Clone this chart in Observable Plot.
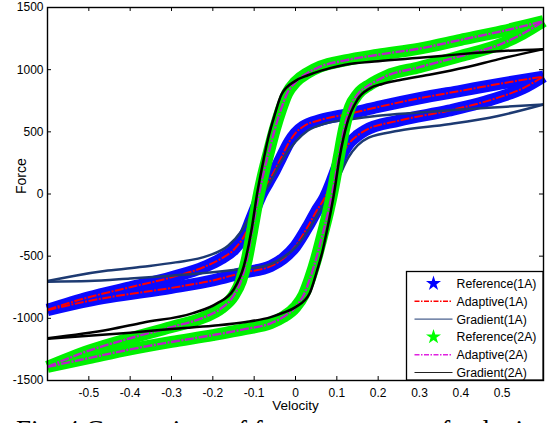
<!DOCTYPE html>
<html><head><meta charset="utf-8">
<script src="https://cdn.jsdelivr.net/npm/d3@7"></script>
<script src="https://cdn.jsdelivr.net/npm/@observablehq/plot@0.6"></script>
<style>
body{margin:0;background:#fff;width:552px;height:423px;overflow:hidden;position:relative}
#chart{position:absolute;left:0;top:0;width:552px;height:415px}
#cap{position:absolute;left:16px;top:416.5px;font-family:"Liberation Serif","Times New Roman",serif;font-size:27px;line-height:27px;white-space:nowrap;color:#000}
</style></head><body><div id="chart"></div><div id="cap">Fig. 4 Comparison of force responses of velocity for</div>
<script>
// ---- data (velocity, force) ----
const xTicks = [-0.5,-0.4,-0.3,-0.2,-0.1,0,0.1,0.2,0.3,0.4,0.5];
const yTicks = [-1500,-1000,-500,0,500,1000,1500];

// 1A adaptive (red) : upper branch (decreasing velocity) and lower branch
const adaptiveUpper1A = [[-0.6,-930],[-0.5,-830],[-0.4,-750],[-0.3,-670],[-0.22,-585],[-0.18,-520],[-0.147,-440],[-0.123,-330],[-0.107,-200],[-0.082,0],[-0.065,100],[-0.05,190],[-0.035,290],[-0.015,420],[0.0,490],[0.02,545],[0.06,595],[0.13,645],[0.2,700],[0.3,770],[0.4,830],[0.5,890],[0.6,945]];
const adaptiveLower1A = [[-0.6,-935],[-0.5,-860],[-0.45,-830],[-0.3,-755],[-0.2,-695],[-0.13,-635],[-0.06,-580],[-0.03,-520],[0.0,-420],[0.031,-255],[0.05,-140],[0.071,-28],[0.085,80],[0.095,170],[0.11,300],[0.128,400],[0.15,470],[0.168,510],[0.25,590],[0.37,670],[0.49,775],[0.55,850],[0.6,945]];
// 1A gradient (navy)
const gradientUpper1A = [[-0.6,-700],[-0.53,-655],[-0.454,-616],[-0.37,-585],[-0.29,-550],[-0.211,-496],[-0.163,-416],[-0.131,-300],[-0.107,-160],[-0.085,-30],[-0.06,100],[-0.035,260],[0.0,420],[0.03,510],[0.07,565],[0.13,600],[0.2,630],[0.3,655],[0.4,680],[0.5,700],[0.6,720]];
const gradientLower1A = [[-0.6,-705],[-0.5,-700],[-0.4,-680],[-0.3,-657],[-0.2,-630],[-0.13,-603],[-0.07,-575],[-0.03,-510],[0.0,-430],[0.035,-270],[0.06,-130],[0.087,0],[0.107,150],[0.128,294],[0.15,390],[0.177,454],[0.249,508],[0.37,561],[0.49,628],[0.6,720]];
// 2A adaptive (magenta)
const adaptiveUpper2A = [[-0.6,-1390],[-0.5,-1260],[-0.4,-1160],[-0.3,-1070],[-0.22,-990],[-0.18,-920],[-0.15,-820],[-0.132,-700],[-0.118,-530],[-0.105,-300],[-0.092,-60],[-0.08,130],[-0.065,330],[-0.05,520],[-0.035,680],[-0.02,810],[0.0,900],[0.03,975],[0.06,1025],[0.12,1075],[0.2,1120],[0.3,1170],[0.4,1240],[0.5,1310],[0.6,1390]];
const adaptiveLower2A = [[-0.6,-1390],[-0.5,-1320],[-0.4,-1250],[-0.3,-1190],[-0.2,-1135],[-0.12,-1085],[-0.06,-1040],[-0.03,-990],[0.0,-910],[0.02,-810],[0.035,-680],[0.05,-520],[0.065,-330],[0.08,-130],[0.092,60],[0.105,300],[0.118,530],[0.132,700],[0.15,800],[0.18,880],[0.22,950],[0.3,1020],[0.4,1110],[0.5,1210],[0.55,1290],[0.6,1390]];
// 2A gradient (black)
const gradientUpper2A = [[-0.6,-1160],[-0.45,-1090],[-0.37,-1035],[-0.25,-960],[-0.19,-880],[-0.15,-770],[-0.125,-580],[-0.107,-300],[-0.092,20],[-0.08,230],[-0.066,450],[-0.05,640],[-0.034,800],[0.0,910],[0.03,955],[0.06,990],[0.12,1040],[0.2,1068],[0.3,1095],[0.4,1125],[0.5,1150],[0.6,1165]];
const gradientLower2A = [[-0.6,-1165],[-0.5,-1140],[-0.4,-1115],[-0.3,-1085],[-0.2,-1060],[-0.12,-1030],[-0.06,-990],[-0.03,-955],[0.0,-910],[0.034,-800],[0.05,-640],[0.066,-450],[0.08,-230],[0.092,-20],[0.107,300],[0.125,570],[0.15,760],[0.18,850],[0.21,885],[0.25,915],[0.33,963],[0.41,1017],[0.49,1083],[0.6,1165]];
// measured reference points coincide with the adaptive fit
const referenceUpper1A = adaptiveUpper1A, referenceLower1A = adaptiveLower1A;
const referenceUpper2A = adaptiveUpper2A, referenceLower2A = adaptiveLower2A;

const rows = (up, low) => [
  ...up.map(([v, f]) => ({v, f, b: "up"})),
  ...low.map(([v, f]) => ({v, f, b: "low"}))
];
const ref1 = rows(referenceUpper1A, referenceLower1A);
const ad1 = rows(adaptiveUpper1A, adaptiveLower1A);
const gr1 = rows(gradientUpper1A, gradientLower1A);
const ref2 = rows(referenceUpper2A, referenceLower2A);
const ad2 = rows(adaptiveUpper2A, adaptiveLower2A);
const gr2 = rows(gradientUpper2A, gradientLower2A);

const C = {blue:"#0a0aff", red:"#ff0000", navy:"#1d3a72", green:"#00f000", mag:"#b81fc8", black:"#000000"};
const L = (data, stroke, w, extra={}) => Plot.line(data, {x:"v", y:"f", z:"b", stroke, strokeWidth:w, curve:"monotone-x", strokeLinecap:"butt", ...extra});
const fmt = d => String(d);

const plot = Plot.plot({
  width: 552, height: 415,
  marginLeft: 47, marginRight: 9, marginTop: 7, marginBottom: 35,
  style: {fontFamily: "'Liberation Sans', Arial, sans-serif", fontSize: "12px", background: "#fff", color: "#000"},
  x: {domain: [-0.6, 0.6]},
  y: {domain: [-1500, 1500]},
  marks: [
    L(ref1, C.blue, 12),
    L(ad1, C.red, 2, {strokeDasharray:"9,1.5,2,1.5"}),
    L(gr1, C.navy, 2.5),
    L(ref2, C.green, 12),
    L(ad2, C.mag, 2.4, {strokeDasharray:"9,1.5,2,1.5"}),
    L(gr2, C.black, 2.5),
    Plot.frame({stroke:"#000", strokeWidth:1.4}),
    Plot.ruleX(xTicks, {x: d=>d, y1:-1500, y2:-1468, stroke:"#000"}),
    Plot.ruleX(xTicks, {x: d=>d, y1:1500, y2:1468, stroke:"#000"}),
    Plot.ruleY(yTicks, {y: d=>d, x1:-0.6, x2:-0.5903, stroke:"#000"}),
    Plot.ruleY(yTicks, {y: d=>d, x1:0.6, x2:0.5903, stroke:"#000"}),
    Plot.axisX(xTicks, {anchor:"bottom", tickSize:0, tickPadding:8, tickFormat:fmt, label:null}),
    Plot.axisY(yTicks, {anchor:"left", tickSize:0, tickPadding:4, tickFormat:fmt, label:null}),
    Plot.text(["Velocity"], {text:d=>d, frameAnchor:"bottom", dy:29.5, fontSize:13.5}),
    Plot.text(["Force"], {text:d=>d, frameAnchor:"left", dx:-26, rotate:-90, fontSize:14})
  ]
});
document.getElementById("chart").appendChild(plot);

// legend box (lower right, inside axes)
const legendItems = [
  {label:"Reference(1A)", kind:"star", color:"#0000ff"},
  {label:"Adaptive(1A)", kind:"dash", color:C.red},
  {label:"Gradient(1A)", kind:"line", color:C.navy},
  {label:"Reference(2A)", kind:"star", color:"#00ff00"},
  {label:"Adaptive(2A)", kind:"dash", color:"#e020e0"},
  {label:"Gradient(2A)", kind:"line", color:"#222"}
];
const g = d3.select(plot).append("g");
g.append("rect").attr("x",406.5).attr("y",271.5).attr("width",136.5).attr("height",108.5)
  .attr("fill","#fff").attr("stroke","#000").attr("stroke-width",1.3);
legendItems.forEach((it, i) => {
  const y = 283.5 + i * 17.8;
  if (it.kind === "star") {
    g.append("path").attr("d", d3.symbol(d3.symbolStar, 70)()).attr("transform", `translate(433.5,${y})`).attr("fill", it.color);
  } else {
    g.append("line").attr("x1",414.5).attr("x2",452.5).attr("y1",y).attr("y2",y)
      .attr("stroke", it.color).attr("stroke-width", it.kind === "dash" ? 1.5 : 1)
      .attr("stroke-dasharray", it.kind === "dash" ? "5,1.5,1.5,1.5" : null);
  }
  g.append("text").attr("x",456.5).attr("y",y).attr("dy","0.36em").attr("font-size","12.3px")
    .attr("text-anchor","start").attr("fill","#000").text(it.label);
});
</script></body></html>
